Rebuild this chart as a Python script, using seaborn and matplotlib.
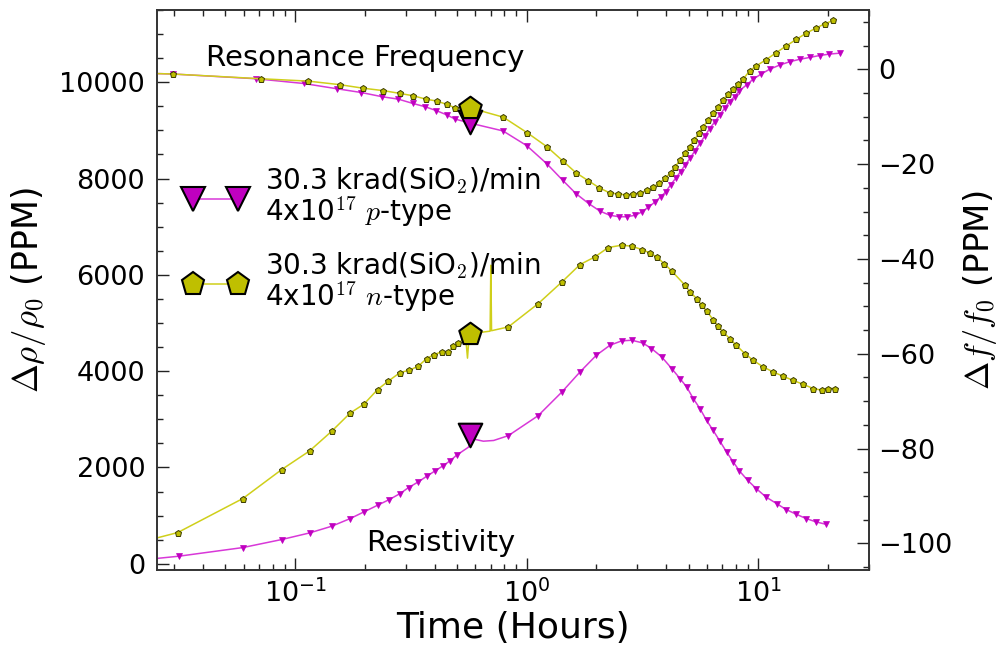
import numpy as np
import pandas as pd
import matplotlib
matplotlib.use("Agg")
import matplotlib.pyplot as plt
import seaborn as sns
from matplotlib.ticker import MultipleLocator, LogLocator, NullFormatter
from matplotlib.lines import Line2D

sns.set_style("ticks")
plt.rcParams['font.family'] = ['DejaVu Sans']
plt.rcParams['mathtext.fontset'] = 'cm'
plt.rcParams['text.color'] = 'black'
plt.rcParams['axes.labelcolor'] = 'black'

# ---------------- data ----------------
# Resonance frequency, n-type (right axis, PPM)
freq_n_t = [0.025, 0.0296, 0.0713, 0.114, 0.156, 0.197, 0.240, 0.284, 0.324, 0.367, 0.409, 0.451,
            0.490, 0.575, 0.792, 1.006, 1.22, 1.43, 1.63, 1.845, 2.058, 2.29, 2.49, 2.68, 2.88,
            3.10, 3.30, 3.52, 3.74, 3.96, 4.18, 4.37, 4.59, 4.83, 5.07, 5.29, 5.55, 5.79, 6.08,
            6.38, 6.71, 7.05, 7.41, 7.79, 8.19, 8.6, 9.2, 9.8, 10.8, 11.96, 13.2, 14.6, 16.1,
            17.8, 19.4, 21.1]
freq_n_v = [-0.9, -1.0, -2.0, -2.5, -3.25, -4.0, -4.5, -5.1, -5.6, -6.3, -6.7, -7.4,
            -8.1, -8.2, -10.1, -13.4, -16.3, -19.3, -21.8, -23.5, -25.0, -26.1, -26.3, -26.5, -26.4,
            -26.1, -25.5, -24.8, -24.0, -23.0, -21.8, -20.6, -19.2, -17.7, -16.3, -14.9, -13.5, -12.1, -10.7,
            -9.3, -7.9, -6.5, -5.2, -4.2, -3.1, -2.1, -0.3, 0.7, 2.0, 3.5, 4.9, 6.3, 7.6,
            8.7, 9.6, 10.3]

# Resonance frequency, p-type (right axis, PPM)
freq_p_t = [0.025, 0.0296, 0.0678, 0.109, 0.151, 0.193, 0.238, 0.279, 0.322, 0.364, 0.406, 0.451,
            0.490, 0.575, 0.79, 1.0, 1.22, 1.43, 1.63, 1.85, 2.07, 2.29, 2.51, 2.70, 2.94, 3.14,
            3.35, 3.58, 3.79, 3.98, 4.18, 4.40, 4.62, 4.83, 5.07, 5.33, 5.6, 5.88, 6.17, 6.49,
            6.82, 7.16, 7.52, 7.90, 8.3, 8.91, 9.5, 10.3, 11.2, 12.4, 13.7, 15.1, 16.7, 18.4,
            20.3, 22.5]
freq_p_v = [-0.9, -1.0, -2.0, -3.0, -4.1, -4.9, -5.8, -6.3, -7.2, -7.9, -8.7, -9.6,
            -10.5, -11.4, -13.0, -16.1, -19.9, -23.4, -26.2, -28.3, -29.9, -30.8, -31.1, -31.1, -30.8, -30.1,
            -29.1, -28.0, -26.9, -25.9, -24.4, -23.0, -21.6, -20.2, -18.8, -17.2, -15.6, -14.1, -12.5, -11.1,
            -9.7, -8.2, -6.8, -5.8, -4.5, -3.3, -2.1, -1.0, 0.0, 0.9, 1.6, 2.1, 2.5, 2.9,
            3.2, 3.4]

# Resistivity, n-type (left axis, PPM)
res_n_t = [0.025, 0.0311, 0.0594, 0.0875, 0.1154, 0.1438, 0.173, 0.198, 0.227, 0.252, 0.284, 0.311,
           0.340, 0.370, 0.398, 0.429, 0.459, 0.482, 0.507, 0.545, 0.555, 0.565, 0.62, 0.695,
           0.70, 0.705, 0.833, 1.12, 1.42, 1.70, 1.97, 2.25, 2.57, 2.84, 3.14, 3.41, 3.64,
           3.93, 4.23, 4.83, 5.07, 5.42, 5.7, 5.98, 6.38, 6.71, 7.05, 7.53, 8.04, 8.75, 9.5,
           10.5, 11.6, 12.8, 14.1, 15.6, 17.3, 18.8, 20.1, 21.4]
res_n_v = [530, 648, 1354, 1957, 2343, 2752, 3132, 3313, 3618, 3790, 3971, 4019,
           4102, 4262, 4345, 4399, 4399, 4517, 4586, 4700, 4270, 4780, 4800, 4830,
           6200, 4840, 4918, 5400, 5853, 6214, 6372, 6567, 6615, 6595, 6526, 6455, 6372,
           6230, 6080, 5784, 5645, 5508, 5369, 5251, 5072, 4933, 4815, 4677, 4538, 4366, 4227,
           4088, 3984, 3894, 3811, 3728, 3639, 3604, 3639, 3639]

# Resistivity, p-type (left axis, PPM)
res_p_t = [0.025, 0.0314, 0.0594, 0.0875, 0.1154, 0.1438, 0.173, 0.198, 0.227, 0.255, 0.284, 0.309,
           0.340, 0.370, 0.402, 0.434, 0.466, 0.498, 0.56, 0.575, 0.65, 0.72, 0.833, 1.12,
           1.42, 1.70, 2.0, 2.29, 2.57, 2.84, 3.17, 3.46, 3.83, 4.23, 4.59, 4.91, 5.24, 5.6,
           5.98, 6.38, 6.82, 7.3, 7.8, 8.3, 9.0, 9.8, 10.8, 12.0, 13.2, 14.6, 16.1, 17.8, 19.6]
res_p_v = [108, 156, 336, 503, 640, 779, 939, 1076, 1215, 1333, 1458, 1583,
           1699, 1817, 1928, 2031, 2135, 2254, 2420, 2600, 2545, 2560, 2660, 3074,
           3568, 3984, 4331, 4538, 4628, 4642, 4586, 4470, 4295, 4054, 3847, 3672, 3431, 3224,
           2980, 2773, 2551, 2322, 2114, 1927, 1734, 1562, 1387, 1250, 1126, 1028, 939, 868, 820]

# line-only samples (no small marker drawn there)
res_n_line_only = [0.025, 0.555, 0.565, 0.62, 0.695, 0.70, 0.705]
res_p_line_only = [0.025, 0.56, 0.575, 0.65, 0.72]
freq_line_only = [0.025]

# large highlighted markers
big_t = [0.57]
big_res_n = [4780]
big_res_p = [2670]
big_freq_n = [-8.2]
big_freq_p = [-11.1]

legend_labels = ["30.3 krad(SiO$_2$)/min\n4x10$^{17}$ $p$-type",
                 "30.3 krad(SiO$_2$)/min\n4x10$^{17}$ $n$-type"]

# ---------------- styling ----------------
MAG = "#C000C0"
MAG_LINE = "#D838D8"
OLV = "#BFBF00"
OLV_LINE = "#CFCF1A"
OLV_EDGE = "#3a3a00"

W, H = 1002, 655
fig = plt.figure(figsize=(W / 100, H / 100), dpi=100)
ax = fig.add_axes([157 / W, (H - 570) / H, 712 / W, 560 / H])
ax2 = ax.twinx()


def marks(t_list, skip):
    return [i for i, t in enumerate(t_list) if t not in skip]


def draw(axis, t, v, lc, mfc, mec, marker, ms, mew, skip):
    df = pd.DataFrame({"t": t, "v": v})
    sns.lineplot(data=df, x="t", y="v", ax=axis, sort=False, estimator=None,
                 color=lc, lw=1.1, legend=False)
    ln = axis.lines[-1]
    ln.set_marker(marker)
    ln.set_markersize(ms)
    ln.set_markerfacecolor(mfc)
    ln.set_markeredgecolor(mec)
    ln.set_markeredgewidth(mew)
    ln.set_markevery(marks(t, skip))


# resistivity (left axis)
draw(ax, res_n_t, res_n_v, OLV_LINE, OLV, OLV_EDGE, "p", 4.6, 0.7, res_n_line_only)
draw(ax, res_p_t, res_p_v, MAG_LINE, MAG, MAG, "v", 5, 0.5, res_p_line_only)
# resonance frequency (right axis)
draw(ax2, freq_p_t, freq_p_v, MAG_LINE, MAG, MAG, "v", 5, 0.5, freq_line_only)
draw(ax2, freq_n_t, freq_n_v, OLV_LINE, OLV, OLV_EDGE, "p", 4.6, 0.7, freq_line_only)

# big markers
big_kw = dict(s=17 ** 2, linewidths=1.5, edgecolors="black", zorder=5, legend=False)
sns.scatterplot(x=big_t, y=big_res_n, ax=ax, marker="p", color=OLV, **big_kw)
sns.scatterplot(x=big_t, y=big_res_p, ax=ax, marker="v", color=MAG, **big_kw)
sns.scatterplot(x=big_t, y=big_freq_p, ax=ax2, marker="v", color=MAG, **big_kw)
sns.scatterplot(x=big_t, y=big_freq_n, ax=ax2, marker="p", color=OLV, **big_kw)

# ---------------- axes ----------------
ax.set_xscale("log")
ax.set_xlim(0.0253, 30.1)
ax.set_ylim(-130, 11500)
ax2.set_ylim(-105.6, 12.5)

ax.yaxis.set_major_locator(MultipleLocator(2000))
ax.yaxis.set_minor_locator(MultipleLocator(500))
ax2.yaxis.set_major_locator(MultipleLocator(20))
ax2.yaxis.set_minor_locator(MultipleLocator(5))
ax.xaxis.set_major_locator(LogLocator(base=10, numticks=10))
ax.xaxis.set_minor_locator(LogLocator(base=10, subs=np.arange(2, 10), numticks=20))
ax.xaxis.set_minor_formatter(NullFormatter())

tick_col = "#222222"
ax.tick_params(which="both", direction="in", top=True, right=False, colors=tick_col,
               labelcolor="black", labelsize=19.5, width=1.0)
ax.tick_params(which="major", length=8.6)
ax.tick_params(which="minor", length=4.3)
ax.tick_params(axis="y", pad=8.5)
ax.tick_params(axis="x", pad=7)
ax2.tick_params(which="both", direction="in", colors=tick_col, labelcolor="black",
                labelsize=19.5, width=1.0, pad=6.5)
ax2.tick_params(which="major", length=8.6)
ax2.tick_params(which="minor", length=4.3)

for a in (ax, ax2):
    for s in a.spines.values():
        s.set_linewidth(1.2)
        s.set_color("#333333")
        s.set_visible(True)

ax.set_xlabel("Time (Hours)", fontsize=26, labelpad=2)
ax.set_ylabel(r"$\Delta\rho/\rho_0$ (PPM)", fontsize=25, labelpad=8)
ax2.set_ylabel(r"$\Delta f/f_0$ (PPM)", fontsize=24.5, labelpad=6)

ax.text(0.292, 0.915, "Resonance Frequency", transform=ax.transAxes, fontsize=21,
        ha="center", va="center")
ax.text(0.399, 0.049, "Resistivity", transform=ax.transAxes, fontsize=21,
        ha="center", va="center")

handles = [
    Line2D([], [], color=MAG_LINE, lw=1.1, marker="v", ms=17, mfc=MAG, mec="black", mew=1.5),
    Line2D([], [], color=OLV_LINE, lw=1.1, marker="p", ms=17, mfc=OLV, mec="black", mew=1.5),
]
leg = ax2.legend(handles, legend_labels, loc="upper left", bbox_to_anchor=(0.0, 0.772),
                 frameon=False, fontsize=20, numpoints=2, handlelength=2.2,
                 handletextpad=0.7, labelspacing=0.75, borderaxespad=0.6)
for t in leg.get_texts():
    t.set_linespacing(0.95)
    t.set_color("black")

fig.savefig("out.png", dpi=100)
